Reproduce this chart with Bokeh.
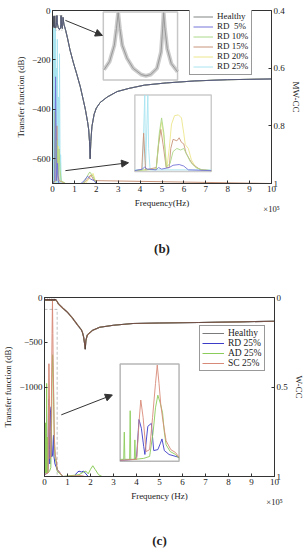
import numpy as np
from bokeh.plotting import figure
from bokeh.models import (Range1d, LinearAxis, FixedTicker, Legend, LegendItem,
                          Arrow, NormalHead, BoxAnnotation)
from bokeh.layouts import column
from bokeh.embed import file_html
from bokeh.resources import INLINE

FONT = "Liberation Serif"

# ---------------- panel (b) data (frequency in 1e5 Hz) ----------------
x_ticks = [0, 1, 2, 3, 4, 5, 6, 7, 8, 9, 10]
b_db_ticks = [0, -200, -400, -600]
b_cc_ticks = [0.4, 0.6, 0.8, 1.0]

tf_b_freq = [0.00, 0.02, 0.04, 0.06, 0.08, 0.10, 0.12,
             0.143, 0.166, 0.186, 0.195, 0.202, 0.209, 0.219, 0.239, 0.265, 0.298,
             0.318, 0.338, 0.364, 0.381, 0.388, 0.392, 0.397, 0.407, 0.424, 0.45,
             0.48, 0.52, 0.60, 0.68, 0.80, 0.96, 1.10, 1.27, 1.40, 1.50, 1.60, 1.65,
             1.69, 1.72, 1.75, 1.80, 1.90, 2.00, 2.18, 2.50, 2.95, 3.50, 4.20, 5.20,
             6.50, 8.00, 10.0]
tf_b_healthy = [-30, -22, -65, -25, -70, -22, -60,
                -71.0, -63.8, -49.4, -34.4, -20.6, -34.4, -49.4, -60.8, -69.8, -75.2,
                -76.4, -75.2, -69.8, -55.4, -34.4, -20.6, -34.4, -52.4, -65.6, -72.8,
                -28, -55, -80, -110, -160, -213, -255, -309, -360, -400, -450, -480,
                -530, -600, -530, -470, -420, -395, -372, -350, -328, -315, -302, -293,
                -285, -280, -277]

rd5_b_freq = [0, 0.10, 0.14, 0.18, 0.23, 0.26, 0.30, 0.60, 1.30, 1.45, 1.60, 1.75, 1.90, 2.00, 10]
rd5_b_cc = [1.0, 0.99, 0.63, 0.99, 0.93, 0.99, 1.0, 1.0, 1.0, 0.99, 0.975, 0.985, 0.99, 1.0, 1.0]
rd10_b_freq = [0, 0.08, 0.11, 0.14, 0.20, 0.27, 0.30, 0.34, 0.40, 0.60, 1.40, 1.55, 1.70, 1.85, 2.00, 10]
rd10_b_cc = [1.0, 0.99, 0.75, 0.95, 0.85, 0.97, 0.88, 0.95, 0.99, 1.0, 1.0, 0.98, 0.96, 0.975, 1.0, 1.0]
rd15_b_freq = [0, 0.15, 0.20, 0.24, 0.30, 0.60, 1.40, 1.60, 1.75, 1.90, 10]
rd15_b_cc = [1.0, 0.99, 0.80, 0.97, 0.99, 1.0, 1.0, 0.985, 0.97, 0.99, 1.0]
rd20_b_freq = [0, 0.20, 0.26, 0.30, 0.60, 1.50, 1.70, 1.85, 2.00, 10]
rd20_b_cc = [1.0, 0.99, 0.87, 0.99, 1.0, 1.0, 0.98, 0.965, 1.0, 1.0]
rd25_b_freq = [0, 0.01, 0.02, 0.04, 0.055, 0.07, 0.085, 0.10, 0.115, 0.13, 0.15, 0.17,
               0.19, 0.22, 0.25, 0.27, 0.30, 0.32, 0.35, 0.37, 0.40, 0.60, 10]
rd25_b_cc = [1.0, 0.42, 1.0, 0.45, 1.0, 0.42, 1.0, 0.5, 1.0, 0.45, 1.0, 0.6,
             1.0, 0.5, 1.0, 0.7, 1.0, 0.55, 1.0, 0.9, 1.0, 1.0, 1.0]

# zoomed MW-CC detail (inset of panel b)
rd5_zoom_freq = [0, 0.06, 0.078, 0.096, 0.168, 0.186, 0.21, 0.27, 0.30, 0.348, 0.384, 0.42, 0.6]
rd5_zoom_cc = [0.999, 0.997, 0.994, 0.997, 0.998, 0.995, 0.997, 0.995, 0.992, 0.991, 0.993, 0.998, 0.999]
rd10_zoom_freq = [0, 0.168, 0.192, 0.21, 0.228, 0.246, 0.276, 0.30, 0.33, 0.36, 0.384, 0.408, 0.438, 0.48, 0.528, 0.6]
rd10_zoom_cc = [0.999, 0.997, 0.95, 0.93, 0.95, 0.994, 0.99, 0.974, 0.97, 0.972, 0.97, 0.978, 0.988, 0.995, 0.998, 0.999]
rd15_zoom_freq = [0, 0.054, 0.069, 0.084, 0.168, 0.186, 0.204, 0.222, 0.246, 0.27, 0.282, 0.30, 0.33,
                  0.348, 0.366, 0.384, 0.402, 0.432, 0.456, 0.516, 0.6]
rd15_zoom_cc = [0.999, 0.998, 0.95, 0.998, 0.995, 0.965, 0.945, 0.965, 0.995, 0.995, 0.97, 0.958, 0.96,
                0.956, 0.962, 0.964, 0.976, 0.985, 0.991, 0.998, 0.999]
rd20_zoom_freq = [0, 0.168, 0.192, 0.21, 0.228, 0.252, 0.27, 0.288, 0.312, 0.342, 0.366, 0.384, 0.396,
                  0.42, 0.444, 0.48, 0.528, 0.6]
rd20_zoom_cc = [0.999, 0.997, 0.955, 0.935, 0.955, 0.995, 0.97, 0.938, 0.927, 0.926, 0.93, 0.95, 0.965,
                0.97, 0.985, 0.995, 0.998, 0.999]
rd25_zoom_freq = [0, 0.06, 0.078, 0.084, 0.102, 0.108, 0.12, 0.6]
rd25_zoom_cc = [0.998, 0.998, 0.9, 0.998, 0.9, 0.97, 0.998, 0.998]

b_names = ["Healthy", "RD \u00a05%", "RD 10%", "RD 15%", "RD 20%", "RD 25%"]
b_colors = ["#4a5050", "#7474d8", "#acd888", "#c8947a", "#ece68c", "#a8e4f0"]

# ---------------- panel (c) data ----------------
c_db_ticks = [0, -500, -1000]
c_cc_ticks = [0, 0.5, 1.0]

tf_c_freq = [0.00, 0.03, 0.05, 0.08, 0.10, 0.13, 0.15, 0.18, 0.20, 0.23,
             0.25, 0.28, 0.30, 0.33, 0.35, 0.38, 0.40, 0.43, 0.45, 0.48,
             0.50, 0.55, 0.60, 0.80, 1.00, 1.20, 1.45, 1.60, 1.65, 1.70,
             1.74, 1.77, 1.80, 1.86, 1.94, 2.10, 2.40, 3.00, 3.85, 5.00,
             6.70, 8.50, 10.0]
tf_c_healthy = [-30, -18, -32, -20, -34, -18, -33, -20, -34, -18,
                -33, -20, -34, -18, -33, -20, -34, -18, -33, -20,
                -30, -45, -70, -120, -165, -225, -311, -360, -390, -440,
                -510, -578, -480, -420, -400, -365, -333, -310, -290, -285,
                -280, -272, -265]

rd_c_freq = [0, 0.1375, 0.154, 0.176, 0.198, 0.22, 0.231, 0.2475, 0.2585, 0.2915, 0.3135, 0.352,
             0.374, 0.3905, 0.4125, 0.4565, 0.55, 0.8, 1.3, 1.4, 1.5, 1.6, 1.7, 1.8, 1.9, 10]
rd_c_wcc = [0.99, 0.98, 0.95, 0.57, 0.66, 0.85, 0.93, 0.75, 0.64, 0.61, 0.89, 0.88,
            0.82, 0.77, 0.89, 0.93, 0.96, 1.0, 1.0, 0.98, 0.97, 0.975, 0.97, 0.985, 1.0, 1.0]
ad_c_freq = [0, 0.033, 0.0385, 0.044, 0.088, 0.0935, 0.099, 0.132, 0.1375, 0.143, 0.22, 0.275,
             0.308, 0.33, 0.352, 0.374, 0.396, 0.4125, 0.429, 0.4675, 0.517, 0.55,
             0.8, 1.5, 1.7, 1.8, 1.9, 2.0, 2.1, 2.2, 2.35, 2.5, 10]
ad_c_wcc = [0.98, 0.98, 0.70, 0.98, 0.98, 0.48, 0.98, 0.98, 0.78, 0.98, 0.97, 0.95,
            0.70, 0.45, 0.32, 0.40, 0.50, 0.70, 0.83, 0.90, 0.93, 0.97,
            1.0, 0.99, 0.975, 0.97, 0.985, 0.96, 0.94, 0.96, 0.99, 1.0, 1.0]
sc_c_freq = [0, 0.154, 0.176, 0.1925, 0.2145, 0.242, 0.275, 0.3025, 0.33, 0.3465, 0.363, 0.3795,
             0.4015, 0.429, 0.473, 0.517, 0.55, 0.8, 1.6, 1.75, 10]
sc_c_wcc = [0.99, 0.98, 0.60, 0.37, 0.55, 0.90, 0.88, 0.55, 0.20, 0.01, 0.20, 0.42,
            0.60, 0.79, 0.88, 0.91, 0.96, 1.0, 0.995, 1.0, 1.0]

c_names = ["Healthy", "RD 25%", "AD 25%", "SC 25%"]
c_colors = ["#222222", "#3c3cc8", "#8ccc5a", "#d88a78"]

AX = "#333333"
TXT = "#222222"


def style_axis(ax, size="9px"):
    ax.axis_label_text_font = FONT
    ax.axis_label_text_font_style = "normal"
    ax.axis_label_text_font_size = size
    ax.axis_label_text_color = TXT
    ax.major_label_text_font = FONT
    ax.major_label_text_font_size = size
    ax.major_label_text_color = TXT
    ax.major_tick_in = 3
    ax.major_tick_out = 0
    ax.minor_tick_line_color = None
    ax.axis_line_color = AX
    ax.major_tick_line_color = AX
    ax.major_label_standoff = 2
    ax.axis_label_standoff = 3


def plain_axis(**kw):
    ax = LinearAxis(**kw)
    ax.axis_line_color = None
    ax.major_tick_line_color = None
    ax.minor_tick_line_color = None
    ax.major_label_text_font = FONT
    ax.major_label_text_color = TXT
    ax.axis_label_text_font = FONT
    ax.axis_label_text_color = TXT
    return ax


def add_scale_and_caption(p, caption, cap_standoff):
    # "x10^5" multiplier written under the last tick
    mult = plain_axis(ticker=FixedTicker(ticks=[10]), major_label_overrides={10: "\u00d710\u2075"})
    mult.major_label_text_font_size = "8.5px"
    mult.major_label_standoff = -13
    p.add_layout(mult, "below")
    cap = plain_axis(ticker=FixedTicker(ticks=[]), axis_label=caption)
    cap.axis_label_text_font_style = "bold"
    cap.axis_label_text_font_size = "13px"
    cap.axis_label_standoff = cap_standoff
    p.add_layout(cap, "below")


def sub_range(freq, vals, lo, hi):
    f = np.asarray(freq, dtype=float)
    v = np.asarray(vals, dtype=float)
    m = (f >= lo) & (f <= hi)
    return f[m], v[m]


def style_legend(lg, size, h, gw, pad):
    lg.label_text_font = FONT
    lg.label_text_font_size = size
    lg.label_text_color = TXT
    lg.label_height = h
    lg.glyph_height = h
    lg.glyph_width = gw
    lg.label_standoff = 4
    lg.spacing = 0
    lg.padding = pad
    lg.margin = 0
    lg.border_line_color = "#333333"
    lg.border_line_width = 1
    lg.background_fill_alpha = 1


head = dict(size=7, fill_color="#333333", line_color="#333333")

# ======================= panel (b) =======================
pb = figure(width=306, height=258, x_range=Range1d(0, 10), y_range=Range1d(-700, 0),
            output_backend="svg", toolbar_location=None, frame_align=False,
            min_border_left=52, min_border_right=35, min_border_top=10, min_border_bottom=75)
pb.xgrid.visible = False
pb.ygrid.visible = False
pb.outline_line_color = AX
pb.extra_y_ranges = {"cc": Range1d(1.0, 0.4)}

pb.xaxis.ticker = FixedTicker(ticks=x_ticks)
pb.xaxis.axis_label = "Frequency(Hz)"
pb.yaxis.ticker = FixedTicker(ticks=b_db_ticks)
pb.yaxis.axis_label = "Transfer function (dB)"
style_axis(pb.xaxis[0])
style_axis(pb.yaxis[0])
rb = LinearAxis(y_range_name="cc", ticker=FixedTicker(ticks=b_cc_ticks), axis_label="MW-CC",
                major_label_overrides={0.4: "0.4", 0.6: "0.6", 0.8: "0.8", 1: "1"})
style_axis(rb)
pb.add_layout(rb, "right")
add_scale_and_caption(pb, "(b)", 24)

cc_r = {}
for fr, vv, k in [(rd25_b_freq, rd25_b_cc, 5), (rd20_b_freq, rd20_b_cc, 4), (rd15_b_freq, rd15_b_cc, 3),
                  (rd10_b_freq, rd10_b_cc, 2), (rd5_b_freq, rd5_b_cc, 1)]:
    cc_r[k] = pb.line(fr, vv, y_range_name="cc", color=b_colors[k], line_width=1)
for k in [5, 4, 3, 2, 1]:
    pb.line(tf_b_freq, tf_b_healthy, color=b_colors[k], line_width=1)
h_b = pb.line(tf_b_freq, tf_b_healthy, color=b_colors[0], line_width=0.7)

# dashed region + inset 1 (resonance zoom)
pb.add_layout(BoxAnnotation(left=0.14, right=0.45, bottom=-80, top=-20, fill_alpha=0,
                            line_color="#888888", line_dash="2 1", line_width=1))
pb.add_layout(BoxAnnotation(left=2.32, right=5.71, bottom=-281, top=-6, fill_color="white",
                            fill_alpha=1, line_color="#444444", line_width=1.5, level="underlay"))
ins1 = pb.subplot(x_source=Range1d(0.14, 0.45), y_source=Range1d(-80, -20),
                  x_target=Range1d(2.32, 5.71), y_target=Range1d(-281, -6))
f1, v1 = sub_range(tf_b_freq, tf_b_healthy, 0.14, 0.45)
ins1.line(f1, v1, color="#cccccc", line_width=4)
ins1.line(f1, v1, color="#999999", line_width=1)

# inset 2 (MW-CC zoom)
pb.add_layout(BoxAnnotation(left=3.76, right=7.25, bottom=-651, top=-342, fill_color="white",
                            fill_alpha=1, line_color="#555555", line_width=1.5, level="underlay"))
ins2 = pb.subplot(x_source=Range1d(0, 0.6), y_source=Range1d(1.0, 0.9),
                  x_target=Range1d(3.76, 7.25), y_target=Range1d(-651, -342))
for fr, vv, k in [(rd25_zoom_freq, rd25_zoom_cc, 5), (rd20_zoom_freq, rd20_zoom_cc, 4),
                  (rd15_zoom_freq, rd15_zoom_cc, 3), (rd10_zoom_freq, rd10_zoom_cc, 2),
                  (rd5_zoom_freq, rd5_zoom_cc, 1)]:
    ins2.line(fr, vv, color=b_colors[k], line_width=0.9)

pb.add_layout(Arrow(end=NormalHead(**head), x_start=0.59, y_start=-40, x_end=2.28, y_end=-101,
                    line_color="#333333", line_width=1))
pb.add_layout(Arrow(end=NormalHead(**head), x_start=0.59, y_start=-648, x_end=3.47, y_end=-616,
                    line_color="#333333", line_width=1))

leg_b = Legend(items=[LegendItem(label=b_names[0], renderers=[h_b])] +
               [LegendItem(label=b_names[k], renderers=[cc_r[k]]) for k in [1, 2, 3, 4, 5]],
               location=(137, 108))
style_legend(leg_b, "9px", 9, 20, 3)
pb.add_layout(leg_b)

# ======================= panel (c) =======================
pc = figure(width=306, height=292, x_range=Range1d(0, 10), y_range=Range1d(-2000, 0),
            output_backend="svg", toolbar_location=None, frame_align=False,
            min_border_left=43, min_border_right=29, min_border_top=39, min_border_bottom=73)
pc.xgrid.visible = False
pc.ygrid.visible = False
pc.outline_line_color = AX
pc.extra_y_ranges = {"cc": Range1d(1.0, 0.0)}
pc.xaxis.ticker = FixedTicker(ticks=x_ticks)
pc.xaxis.axis_label = "Frequency (Hz)"
pc.yaxis.ticker = FixedTicker(ticks=c_db_ticks)
pc.yaxis.axis_label = "Transfer function (dB)"
style_axis(pc.xaxis[0])
style_axis(pc.yaxis[0])
rc = LinearAxis(y_range_name="cc", ticker=FixedTicker(ticks=c_cc_ticks), axis_label="W-CC",
                major_label_overrides={0: "0", 0.5: "0.5", 1: "1"})
style_axis(rc)
pc.add_layout(rc, "right")
add_scale_and_caption(pc, "(c)", 23)

c_series = [(rd_c_freq, rd_c_wcc, 1), (ad_c_freq, ad_c_wcc, 2), (sc_c_freq, sc_c_wcc, 3)]
c_r = {}
for fr, vv, k in c_series:
    c_r[k] = pc.line(fr, vv, y_range_name="cc", color=c_colors[k], line_width=1)
for k in [1, 2, 3]:
    pc.line(tf_c_freq, tf_c_healthy, color=c_colors[k], line_width=1.1)
h_c = pc.line(tf_c_freq, tf_c_healthy, color=c_colors[0], line_width=0.6)

pc.add_layout(BoxAnnotation(left=0, right=0.55, bottom=-2000, top=-133, fill_alpha=0,
                            line_color="#333333", line_dash="3 2", line_width=1))
pc.add_layout(BoxAnnotation(left=3.29, right=5.85, bottom=-1830, top=-744, fill_color="white",
                            fill_alpha=1, line_color="#111111", line_width=1.5, level="underlay"))
ins3 = pc.subplot(x_source=Range1d(0, 0.55), y_source=Range1d(1.0, 0.0),
                  x_target=Range1d(3.29, 5.85), y_target=Range1d(-1830, -744))
for fr, vv, k in c_series:
    fz, vz = sub_range(fr, vv, 0, 0.55)
    ins3.line(fz, vz, color=c_colors[k], line_width=0.9)
pc.add_layout(Arrow(end=NormalHead(**head), x_start=0.73, y_start=-1311, x_end=2.95, y_end=-1089,
                    line_color="#333333", line_width=1))

leg_c = Legend(items=[LegendItem(label=c_names[0], renderers=[h_c])] +
               [LegendItem(label=c_names[k], renderers=[c_r[k]]) for k in [1, 2, 3]],
               location=(155, 105))
style_legend(leg_c, "9.5px", 10, 22, 2)
pc.add_layout(leg_c)

layout = column(pb, pc, spacing=0)
open("out.html", "w").write(file_html(layout, INLINE))
